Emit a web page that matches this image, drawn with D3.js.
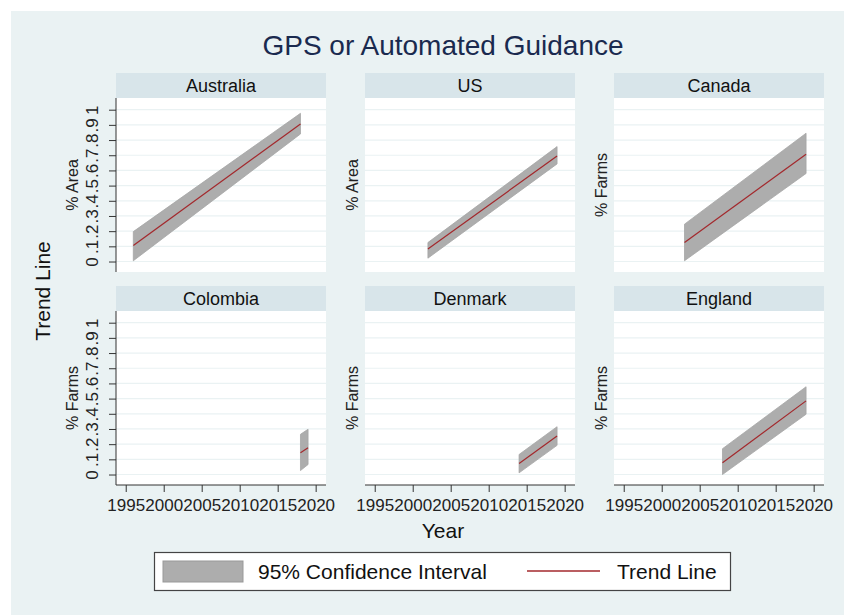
<!DOCTYPE html>
<html>
<head>
<meta charset="utf-8">
<script src="https://cdn.jsdelivr.net/npm/d3@7"></script>
<style>
  body { margin: 0; background: #fff; }
  svg { display: block; font-family: "Liberation Sans", Arial, sans-serif; }
</style>
</head>
<body>
<svg id="chart" width="844" height="615"></svg>
<script>
// data (fit and 95% CI at first / last year)
var countries = ["Australia", "US", "Canada", "Colombia", "Denmark", "England"];
var yLabels   = ["% Area", "% Area", "% Farms", "% Farms", "% Farms", "% Farms"];
var years = [[1996, 2018], [2002, 2019], [2003, 2019], [2018, 2019], [2014, 2019], [2008, 2019]];
var fit   = [[0.105, 0.906], [0.082, 0.695], [0.125, 0.707], [0.143, 0.176], [0.073, 0.254], [0.077, 0.485]];
var lower = [[0.005, 0.840], [0.022, 0.643], [0.005, 0.580], [0.026, 0.066], [0.011, 0.192], [0.000, 0.397]];
var upper = [[0.197, 0.976], [0.125, 0.757], [0.246, 0.845], [0.265, 0.298], [0.132, 0.315], [0.170, 0.578]];

var xTicks = [1995, 2000, 2005, 2010, 2015, 2020];
var yTicks = [0, 0.1, 0.2, 0.3, 0.4, 0.5, 0.6, 0.7, 0.8, 0.9, 1];
var yTickLabels = ["0", ".1", ".2", ".3", ".4", ".5", ".6", ".7", ".8", ".9", "1"];

// layout
var colLeft = [116, 365, 614],
    rowTop = [98, 311],
    plotW = 210,
    plotH = 174,
    stripH = 25;

var x = d3.scaleLinear().domain([1993.72, 2021.36]).range([0, plotW]);
var y = d3.scaleLinear().domain([-0.069, 1.077]).range([plotH, 0]);

var svg = d3.select("#chart");

svg.append("rect")
    .attr("x", 11).attr("y", 11)
    .attr("width", 833).attr("height", 604)
    .attr("fill", "#eaf2f3");

svg.append("text")
    .attr("x", 443).attr("y", 55)
    .attr("text-anchor", "middle")
    .attr("font-size", 28)
    .attr("fill", "#1a2a4f")
    .text("GPS or Automated Guidance");

var area = d3.area()
    .x(function(d) { return x(d.year); })
    .y0(function(d) { return y(d.lo); })
    .y1(function(d) { return y(d.hi); });

var line = d3.line()
    .x(function(d) { return x(d.year); })
    .y(function(d) { return y(d.fit); });

countries.forEach(function(name, i) {
  var col = i % 3, row = Math.floor(i / 3);
  var g = svg.append("g")
      .attr("transform", "translate(" + colLeft[col] + "," + rowTop[row] + ")");

  // strip
  g.append("rect")
      .attr("x", 0).attr("y", -stripH)
      .attr("width", plotW).attr("height", stripH)
      .attr("fill", "#d8e5ea");
  g.append("text")
      .attr("x", plotW / 2).attr("y", -6)
      .attr("text-anchor", "middle")
      .attr("font-size", 18)
      .attr("fill", "#111")
      .text(name);

  // plot region and grid
  g.append("rect")
      .attr("width", plotW).attr("height", plotH)
      .attr("fill", "#fff");
  g.selectAll(".grid")
      .data(yTicks)
    .enter().append("line")
      .attr("class", "grid")
      .attr("x1", 0).attr("x2", plotW)
      .attr("y1", function(d) { return y(d); })
      .attr("y2", function(d) { return y(d); })
      .attr("stroke", "#eaf2f3")
      .attr("stroke-width", 1.2);

  var pts = years[i].map(function(yr, j) {
    return {year: yr, fit: fit[i][j], lo: lower[i][j], hi: upper[i][j]};
  });

  g.append("path")
      .datum(pts)
      .attr("d", area)
      .attr("fill", "#adadad")
      .attr("stroke", "#a6a6a6")
      .attr("stroke-width", 0.8);

  g.append("path")
      .datum(pts)
      .attr("d", line)
      .attr("fill", "none")
      .attr("stroke", "#a3282c")
      .attr("stroke-width", 1.2);

  // y axis title on every panel
  var titleX = col === 0 ? -38 : -7;
  g.append("text")
      .attr("transform", "translate(" + titleX + "," + (plotH / 2) + ") rotate(-90)")
      .attr("text-anchor", "middle")
      .attr("font-size", 16)
      .attr("fill", "#222")
      .text(yLabels[i]);

  // y axis only in first column
  if (col === 0) {
    var yAxis = g.append("g")
        .call(d3.axisLeft(y)
          .tickValues(yTicks)
          .tickSize(7)
          .tickSizeOuter(0)
          .tickFormat(function(d, k) { return yTickLabels[k]; }));
    yAxis.select(".domain").attr("stroke", "#333").attr("d", "M0,0V" + plotH);
    yAxis.selectAll(".tick line").attr("stroke", "#333");
    yAxis.selectAll(".tick text")
        .attr("x", 0).attr("dy", 0)
        .attr("transform", "translate(-18,0) rotate(-90)")
        .attr("text-anchor", "middle")
        .attr("font-size", 17)
        .attr("font-family", "Liberation Sans, Arial, sans-serif")
        .attr("fill", "#222");
  }

  // x axis only in bottom row
  if (row === 1) {
    var xAxis = g.append("g")
        .attr("transform", "translate(0," + plotH + ")")
        .call(d3.axisBottom(x)
          .tickValues(xTicks)
          .tickSize(7)
          .tickSizeOuter(0)
          .tickPadding(7)
          .tickFormat(d3.format("d")));
    xAxis.select(".domain").attr("stroke", "#333").attr("d", "M0,0H" + plotW);
    xAxis.selectAll(".tick line").attr("stroke", "#333");
    xAxis.selectAll(".tick text")
        .attr("font-size", 17)
        .attr("font-family", "Liberation Sans, Arial, sans-serif")
        .attr("fill", "#222");
  }
});

// outer titles
svg.append("text")
    .attr("transform", "translate(50,291) rotate(-90)")
    .attr("text-anchor", "middle")
    .attr("font-size", 21)
    .attr("fill", "#111")
    .text("Trend Line");

svg.append("text")
    .attr("x", 443).attr("y", 538)
    .attr("text-anchor", "middle")
    .attr("font-size", 21)
    .attr("fill", "#111")
    .text("Year");

// legend
var legend = svg.append("g");
legend.append("rect")
    .attr("x", 154.5).attr("y", 552.5)
    .attr("width", 576).attr("height", 38)
    .attr("fill", "#fff")
    .attr("stroke", "#444")
    .attr("stroke-width", 1.2);
legend.append("rect")
    .attr("x", 163).attr("y", 561)
    .attr("width", 80).attr("height", 21)
    .attr("fill", "#adadad")
    .attr("stroke", "#999");
legend.append("text")
    .attr("x", 258).attr("y", 579)
    .attr("font-size", 21)
    .attr("fill", "#111")
    .text("95% Confidence Interval");
legend.append("line")
    .attr("x1", 527).attr("x2", 600)
    .attr("y1", 571).attr("y2", 571)
    .attr("stroke", "#a3282c")
    .attr("stroke-width", 1.4);
legend.append("text")
    .attr("x", 617).attr("y", 579)
    .attr("font-size", 21)
    .attr("fill", "#111")
    .text("Trend Line");
</script>
</body>
</html>
